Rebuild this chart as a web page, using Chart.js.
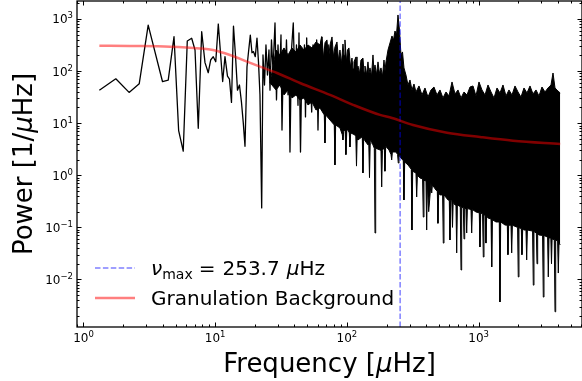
<!DOCTYPE html>
<html>
<head>
<meta charset="utf-8">
<script src="https://cdn.jsdelivr.net/npm/chart.js@4.4.1/dist/chart.umd.min.js"></script>
<style>
  html, body { margin: 0; padding: 0; background: #fff; }
  #wrap { width: 582px; height: 381px; }
</style>
</head>
<body>
<div id="wrap"><canvas id="psd" width="582" height="381"></canvas></div>
<script>
// Power spectrum, low-frequency part (individual bins)
const lowFreq = [1.32, 1.76, 2.22, 2.65, 3.10, 3.98, 4.40, 4.87, 5.28, 5.72, 6.14, 6.63, 7.03, 7.44, 7.90,
  8.37, 8.86, 9.24, 9.67, 10.1, 10.56, 11.4, 11.87, 12.4, 12.84, 13.3, 13.77, 14.26, 14.77, 15.29, 15.84,
  16.35, 16.84, 17.44, 17.9, 18.48, 19.03, 19.54, 20.16, 20.77, 21.32, 21.88,
  22.55, 23.07, 23.68, 24.30, 24.95, 25.61, 26.08, 26.76, 27.48, 28.46, 29.21, 29.99, 30.78, 31.60, 32.16,
  33.02, 33.88, 34.78, 35.72, 36.35, 36.98, 37.96, 39.17, 40.36, 41.43, 42.54, 43.29, 44.44, 45.62, 46.83,
  47.6, 48.5, 49.52, 50.66, 52.00, 54.05, 55.29, 57.26, 58.98, 60.34, 61.94, 64.39, 66.2, 68.2, 70.0,
  72.2, 73.8, 75.7, 78.4];
const lowPower = [43, 71, 39, 57, 760, 63, 67, 457, 7.2, 2.9, 378, 427, 254, 8.0, 570,
  145, 93, 163, 189, 151, 800, 63, 190, 80, 70, 25, 730, 200, 43, 54, 25,
  10, 3.6, 120, 230, 490, 225, 236, 189, 430, 150, 35,
  0.236, 204, 54, 317, 84, 254, 43, 396, 105, 838, 28, 317, 67, 493, 7.4,
  254, 54, 396, 35, 204, 2.8, 254, 838, 43, 317, 22, 538, 2.8, 204, 35,
  317, 13.2, 432, 28, 254, 16.4, 317, 28, 396, 7.4, 254, 452, 17.9, 278, 22,
  317, 20.5, 254, 11.5];

// Dense part: upper edge of the black band
const bandTopFreq = [26.08, 28.95, 31.05, 33.31, 35.72, 38.30, 41.07, 44.05, 47.24, 50.66, 54.33, 58.27,
  62.49, 64.71, 66.43, 68.2, 70.6, 72.5, 74.43, 77.1, 79.1, 81.2, 84.1, 86.4, 88.6, 91.0, 93.4, 95.1, 96.7,
  99.3, 101.1, 103.7, 106.5, 109.3, 111.3, 113.2, 117.3, 119.3, 121.4, 124.7, 127.9, 132.5, 134.9, 137.2,
  140.9, 144.6, 147.2, 149.8, 153.8, 157.8, 160.6, 163.5, 167.8, 172.3, 176.8, 181.5, 186.4, 191.3, 194.7,
  198.1, 205.2, 212.4, 220.0, 225.9, 231.9, 238.0, 244.3, 250.8, 257.5, 264.4, 271.3,
  280.9, 291.0, 301.3, 312.0, 323.2, 334.7, 352.8, 371.7, 391.7, 412.8, 435.1, 458.5, 483.2, 509.3, 536.6,
  565.6, 596.1, 628.3, 662.1, 697.8, 735.4, 775.0, 816.6, 860.6, 907.1, 955.7, 1007, 1061, 1119, 1179, 1243,
  1309, 1380, 1454, 1532, 1615, 1701, 1793, 1890, 1992, 2099, 2212, 2331, 2457, 2589, 2729, 2875, 3029,
  3193, 3365, 3546, 3673, 3804, 3940, 4081, 4166];
const bandTopPower = [60, 254, 204, 278, 204, 278, 233, 317, 254, 317, 278, 362,
  317, 452, 180, 350, 396, 170, 317, 452, 190, 290, 362, 160, 254, 140, 331, 200, 396,
  150, 254, 278, 120, 178, 110, 150, 187, 100, 125, 90, 163, 178, 95, 125,
  85, 150, 90, 115, 80, 204, 100, 131, 85, 150, 90, 115, 80, 163, 100,
  150, 254, 346, 472, 396, 588, 493, 1194, 615, 204, 233, 115,
  84, 54, 67.5, 43.4, 56.5, 39.7, 51.8, 34.8, 47.4, 31.8, 43.4, 49.5, 34.8, 43.4, 30.5,
  39.7, 33.3, 61.8, 36.4, 43.4, 30.5, 39.7, 34.8, 49.5, 51.8, 33.3, 61.8, 43.4, 34.8, 54.1, 39.7,
  30.5, 47.4, 38.0, 54.1, 33.3, 43.4, 34.8, 51.8, 39.7, 31.8, 47.4, 38.0, 51.8, 36.4, 43.4, 33.3, 49.5,
  39.7, 47.4, 54.1, 91.9, 47.4, 43.4, 39.7, 38.0];

// Dense part: lower edge of the black band, with the deep single-bin dips
const bandBottomFreq = [26.08, 28.95, 31.05, 33.31, 35.72, 38.30, 41.07, 44.05, 47.24, 50.66, 54.33, 58.27,
  62.49, 67.35, 68.2, 69.0, 74.43, 80.2, 81.2, 82.2, 88.6, 92.3, 93.4, 94.6, 97.0, 98.4, 99.9, 101.9,
  104.3, 105.6, 106.9, 115.2, 116.9, 118.3, 119.7, 121.4, 130.9, 132.5, 134.1, 144.6, 146.7, 148.5, 150.3,
  152.4, 161.5, 163.5, 165.5, 178.4, 181.5, 183.8, 186.1, 192.3, 194.7, 197.1, 208.8, 216.2, 218.9, 221.6,
  235.9, 242.7, 245.6, 248.7, 268.1, 271.3, 274.8, 291.0, 308.3, 312.0, 316, 334.7, 338.8, 343.0, 358.9,
  375.6, 380.2, 384.9, 398.6, 403.5, 408.5, 418, 435.1, 440.5, 445.9, 474.9, 485.9, 491.8, 497.8, 509.3,
  533.0, 539.5, 546.2, 585.8, 599.2, 606.6, 614.1, 626, 633.7, 641.4, 662.1, 673.5, 682, 690.2, 726.1,
  735.4, 744.1, 765.6, 775, 784.5, 802.4, 812.2, 822.2, 875.7, 886.5, 897.4, 955.7, 1012, 1025, 1038,
  1072, 1086, 1099, 1124, 1138, 1152, 1179, 1243, 1258, 1273, 1356, 1436, 1454, 1472, 1587, 1652, 1672,
  1692, 1762, 1784, 1806, 1978, 2001, 2026, 2110, 2136, 2162, 2212, 2290, 2318, 2347, 2570, 2602, 2634,
  2745, 2777, 2810, 2875, 3061, 3099, 3138, 3342, 3382, 3425, 3485, 3536, 3577, 3617, 3756, 3804, 3851,
  3981, 4030, 4081, 4166];
const bandBottomPower = [60, 43.4, 54.1, 34.8, 43.4, 30.5, 34.8, 27.9, 30.5, 22.4, 25.5, 17.9,
  19.6, 14.4, 4.17, 14.4, 11.5, 9.24, 1.58, 9.24, 8.09, 6, 4.76, 7, 7.5, 2.5, 7.4, 7.41,
  6.5, 3.49, 6.5, 5.94, 5.5, 1.5, 5.2, 4.76, 5.5, 1.11, 5, 3.82, 3.9, 0.9, 4.0,
  4.76, 3.3, 0.078, 3.3, 3.06, 3.0, 0.596, 3.0, 3.5, 1.2, 3.6, 3.06, 2.5, 1.97, 2.8,
  2.80, 2.5, 1.72, 2.4, 1.9, 0.336, 1.8, 1.58, 1.3, 0.089, 1.2, 1.1, 0.383, 1.0, 0.888,
  0.85, 0.158, 0.8, 0.78, 0.089, 0.75, 0.2, 0.7, 0.457, 0.65, 0.52, 0.5, 0.12, 0.45, 0.42,
  0.42, 0.050, 0.42, 0.336, 0.33, 0.0573, 0.33, 0.32, 0.1, 0.3, 0.269, 0.27, 0.0323, 0.27, 0.25,
  0.0152, 0.24, 0.24, 0.06, 0.23, 0.23, 0.078, 0.23, 0.22, 0.078, 0.22, 0.1975, 0.19, 0.042, 0.19,
  0.18, 0.027, 0.175, 0.17, 0.05, 0.165, 0.1515, 0.145, 0.0174, 0.14, 0.127, 0.127, 0.0037, 0.127, 0.111, 0.11, 0.03,
  0.11, 0.11, 0.0323, 0.11, 0.1, 0.0112, 0.098, 0.095, 0.03, 0.093, 0.089, 0.089, 0.0237, 0.089, 0.085, 0.0078, 0.083,
  0.078, 0.02, 0.075, 0.0715, 0.07, 0.0046, 0.07, 0.065, 0.0112, 0.063, 0.0626, 0.062, 0.02, 0.06, 0.058, 0.0024, 0.057,
  0.055, 0.0133, 0.05, 0.046];

// Granulation background model
const bgFreq = [1.32, 2.255, 4.54, 7.66, 9.62, 12.95, 17.44, 21.88, 29.46, 44.05, 74.43, 111.3, 178.4, 220.0, 317.6, 575.6, 1025, 1825, 4166];
const bgPower = [307, 303, 294, 272, 254, 204, 151.5, 121.5, 91.9, 59.1, 34.8, 22.5, 14.4, 12.6, 9.24, 6.57, 5.43, 4.61, 3.99];

const numax = 253.7;

// axes
const X_MIN = 0.893, X_MAX = 6098;
const Y_MIN = 0.001225, Y_MAX = 2213;
const xTickValues = [1, 10, 100, 1000];
const xTickLabels = ['10^0', '10^1', '10^2', '10^3'];
const yTickValues = [0.01, 0.1, 1, 10, 100, 1000];
const yTickLabels = ['10^-2', '10^-1', '10^0', '10^1', '10^2', '10^3'];

const FONT = '"DejaVu Sans", "Liberation Sans", sans-serif';
const pts = (xs, ys) => xs.map((x, i) => ({ x: x, y: ys[i] }));

function logSteps(lo, hi) {
  const out = [];
  for (let d = Math.floor(Math.log10(lo)); d <= Math.ceil(Math.log10(hi)); d++) {
    for (let k = 1; k < 10; k++) {
      const v = k * Math.pow(10, d);
      if (v >= lo && v <= hi) out.push({ v: v, major: k === 1 });
    }
  }
  return out;
}

function drawPow(ctx, label, x, y, align) {
  const parts = label.split('^');
  const exp = parts[1].replace('-', '\u2212');
  ctx.font = '12px ' + FONT;
  const wb = ctx.measureText(parts[0]).width;
  ctx.font = '8.5px ' + FONT;
  const we = ctx.measureText(exp).width;
  const start = align === 'right' ? x - wb - we : x - (wb + we) / 2;
  ctx.font = '12px ' + FONT;
  ctx.fillText(parts[0], start, y);
  ctx.font = '8.5px ' + FONT;
  ctx.fillText(exp, start + wb, y - 5);
}

function drawRuns(ctx, runs, x, y, align) {
  const widths = runs.map(r => { ctx.font = r.font; return ctx.measureText(r.text).width + (r.gap || 0); });
  const total = widths.reduce((s, w) => s + w, 0);
  let cx = align === 'center' ? x - total / 2 : x;
  runs.forEach((r, i) => {
    ctx.font = r.font;
    ctx.fillText(r.text, cx, y + (r.dy || 0));
    cx += widths[i];
  });
}

const frame = {
  id: 'frame',
  afterDraw(chart) {
    const { ctx, chartArea: a, scales } = chart;
    const sx = scales.x, sy = scales.y;
    ctx.save();
    ctx.strokeStyle = '#000';
    ctx.lineWidth = 1;
    ctx.beginPath();
    logSteps(X_MIN, X_MAX).forEach(t => {
      const px = Math.round(sx.getPixelForValue(t.v)) + 0.5;
      const len = t.major ? 4.5 : 2.5;
      ctx.moveTo(px, a.bottom); ctx.lineTo(px, a.bottom - len);
      ctx.moveTo(px, a.top); ctx.lineTo(px, a.top + len);
    });
    logSteps(Y_MIN, Y_MAX).forEach(t => {
      const py = Math.round(sy.getPixelForValue(t.v)) + 0.5;
      const len = t.major ? 4.5 : 2.5;
      ctx.moveTo(a.left, py); ctx.lineTo(a.left + len, py);
      ctx.moveTo(a.right, py); ctx.lineTo(a.right - len, py);
    });
    ctx.stroke();

    ctx.lineWidth = 1.3;
    ctx.strokeRect(a.left, a.top, a.right - a.left, a.bottom - a.top);

    // tick labels
    ctx.fillStyle = '#000';
    ctx.textAlign = 'left';
    ctx.textBaseline = 'alphabetic';
    xTickValues.forEach((v, i) => drawPow(ctx, xTickLabels[i], sx.getPixelForValue(v), a.bottom + 14.5, 'center'));
    yTickValues.forEach((v, i) => drawPow(ctx, yTickLabels[i], a.left - 4, sy.getPixelForValue(v) + 4.5, 'right'));

    // axis titles
    const big = '26px ' + FONT, bigIt = 'oblique 26px ' + FONT;
    drawRuns(ctx, [
      { text: 'Frequency [', font: big },
      { text: '\u03bc', font: bigIt },
      { text: 'Hz]', font: big }
    ], (a.left + a.right) / 2, 371.5, 'center');
    ctx.save();
    ctx.translate(32, (a.top + a.bottom) / 2);
    ctx.rotate(-Math.PI / 2);
    drawRuns(ctx, [
      { text: 'Power [1/', font: big },
      { text: '\u03bc', font: bigIt },
      { text: 'Hz]', font: big }
    ], 0, 0, 'center');
    ctx.restore();

    // legend
    ctx.lineWidth = 1.5;
    ctx.strokeStyle = 'rgba(0,0,255,0.5)';
    ctx.setLineDash([5.5, 2.4]);
    ctx.beginPath(); ctx.moveTo(95, 268); ctx.lineTo(135, 268); ctx.stroke();
    ctx.setLineDash([]);
    ctx.lineWidth = 2.5;
    ctx.strokeStyle = 'rgba(255,0,0,0.5)';
    ctx.beginPath(); ctx.moveTo(95, 298); ctx.lineTo(135, 298); ctx.stroke();

    const f20 = '20px ' + FONT, f20i = 'oblique 20px ' + FONT, f14 = '14px ' + FONT;
    drawRuns(ctx, [
      { text: '\u03bd', font: f20i },
      { text: 'max', font: f14, dy: 4, gap: 6 },
      { text: '=', font: f20, gap: 7 },
      { text: '253.7', font: f20, gap: 7 },
      { text: '\u03bc', font: f20i },
      { text: 'Hz', font: f20 }
    ], 151, 275, 'left');
    ctx.font = f20;
    ctx.fillText('Granulation Background', 151, 305);
    ctx.restore();
  }
};

new Chart(document.getElementById('psd'), {
  type: 'scatter',
  data: {
    datasets: [
      { data: pts(bandTopFreq, bandTopPower), showLine: true, borderColor: '#000', borderWidth: 1,
        backgroundColor: '#000', fill: '+1', pointRadius: 0, borderJoinStyle: 'round', order: 5 },
      { data: pts(bandBottomFreq, bandBottomPower), showLine: true, borderColor: '#000', borderWidth: 1,
        pointRadius: 0, borderJoinStyle: 'round', order: 5 },
      { data: pts(lowFreq, lowPower), showLine: true, borderColor: '#000', borderWidth: 1.3,
        pointRadius: 0, borderJoinStyle: 'round', order: 4 },
      { data: [{ x: numax, y: Y_MIN }, { x: numax, y: Y_MAX }], showLine: true,
        borderColor: 'rgba(0,0,255,0.5)', borderWidth: 1.5, borderDash: [5.5, 2.4], pointRadius: 0, order: 2 },
      { data: pts(bgFreq, bgPower), showLine: true, borderColor: 'rgba(255,0,0,0.5)', borderWidth: 2.5,
        cubicInterpolationMode: 'monotone', pointRadius: 0, order: 1 }
    ]
  },
  options: {
    responsive: false,
    animation: false,
    devicePixelRatio: 1,
    layout: { padding: { left: 77, right: 0, top: 1, bottom: 54 } },
    scales: {
      x: { type: 'logarithmic', min: X_MIN, max: X_MAX, display: false },
      y: { type: 'logarithmic', min: Y_MIN, max: Y_MAX, display: false }
    },
    plugins: { legend: { display: false }, tooltip: { enabled: false } }
  },
  plugins: [frame]
});
</script>
</body>
</html>
